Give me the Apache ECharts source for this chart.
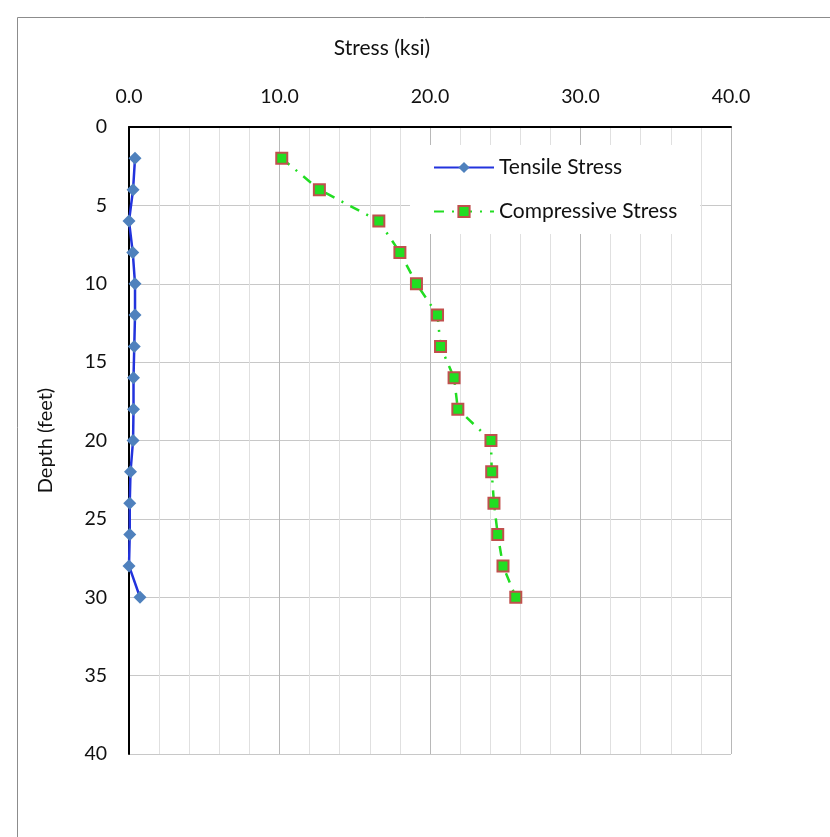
<!DOCTYPE html>
<html>
<head>
<meta charset="utf-8">
<script src="https://cdn.jsdelivr.net/npm/echarts@6/dist/echarts.min.js"></script>
<style>
  html, body { margin: 0; padding: 0; background: #fff; }
  #chart { width: 830px; height: 837px; }
</style>
</head>
<body>
<div id="chart"></div>
<script>
// Depth below top (feet) for each reading
const depths = [2, 4, 6, 8, 10, 12, 14, 16, 18, 20, 22, 24, 26, 28, 30];
// Stresses in ksi at each depth
const tensileStress = [0.4, 0.27, 0.0, 0.25, 0.4, 0.4, 0.35, 0.3, 0.3, 0.27, 0.1, 0.05, 0.05, 0.0, 0.73];
const compressiveStress = [10.15, 12.65, 16.6, 18.0, 19.1, 20.5, 20.7, 21.6, 21.85, 24.05, 24.1, 24.25, 24.5, 24.85, 25.7];

const FONT = 'Lato, "Noto Sans", sans-serif';
const pair = (xs) => xs.map((v, i) => [v, depths[i]]);

const chart = echarts.init(document.getElementById('chart'));
chart.setOption({
  backgroundColor: '#fff',
  animation: false,
  textStyle: { fontFamily: FONT, color: '#222' },
  graphic: [{
    type: 'rect',
    shape: { x: 17.5, y: 17.5, width: 830, height: 840 },
    style: { fill: 'none', stroke: '#8c8c8c', lineWidth: 1 },
    silent: true
  }],
  grid: { left: 129, right: 99, top: 127, bottom: 83, containLabel: false },
  legend: {
    orient: 'vertical',
    left: 410,
    top: 145,
    padding: [12, 23, 12, 23],
    itemGap: 23,
    itemWidth: 60,
    itemHeight: 14,
    backgroundColor: '#fff',
    textStyle: { fontFamily: FONT, fontSize: 21, color: '#111' },
    data: ['Tensile Stress', 'Compressive Stress']
  },
  xAxis: {
    type: 'value',
    position: 'top',
    min: 0, max: 40, interval: 10,
    name: 'Stress (ksi)',
    nameLocation: 'middle',
    nameGap: 68,
    nameTextStyle: { fontFamily: FONT, fontSize: 21, color: '#111', padding: [0, 96, 0, 0] },
    axisLine: { show: true, onZero: false, lineStyle: { color: '#000', width: 2 } },
    axisTick: { show: false },
    axisLabel: { fontFamily: FONT, fontSize: 19.5, color: '#111', margin: 20, formatter: (v) => v.toFixed(1) },
    splitLine: { show: true, lineStyle: { color: '#b8b8b8', width: 1 } },
    minorTick: { show: false, splitNumber: 5 },
    minorSplitLine: { show: true, lineStyle: { color: '#e0e0e0', width: 1 } }
  },
  yAxis: {
    type: 'value',
    inverse: true,
    min: 0, max: 40, interval: 5,
    name: 'Depth (feet)',
    nameLocation: 'middle',
    nameGap: 73,
    nameRotate: 90,
    nameTextStyle: { fontFamily: FONT, fontSize: 20, color: '#111' },
    axisLine: { show: true, onZero: false, lineStyle: { color: '#000', width: 2 } },
    axisTick: { show: false },
    axisLabel: { fontFamily: FONT, fontSize: 19.5, color: '#111', margin: 22 },
    splitLine: { show: true, lineStyle: { color: '#c8c8c8', width: 1 } }
  },
  series: [
    {
      name: 'Tensile Stress',
      type: 'line',
      data: pair(tensileStress),
      symbol: 'diamond',
      symbolSize: 13,
      itemStyle: { color: '#4f81bd' },
      lineStyle: { color: '#2233dd', width: 2.5 },
      z: 3
    },
    {
      name: 'Compressive Stress',
      type: 'line',
      data: pair(compressiveStress),
      symbol: 'rect',
      symbolSize: 11,
      itemStyle: { color: '#22dd22', borderColor: '#c0504d', borderWidth: 2 },
      lineStyle: { color: '#22dd22', width: 2.5, type: [10, 8, 2, 8] },
      z: 4
    }
  ]
});
</script>
</body>
</html>
